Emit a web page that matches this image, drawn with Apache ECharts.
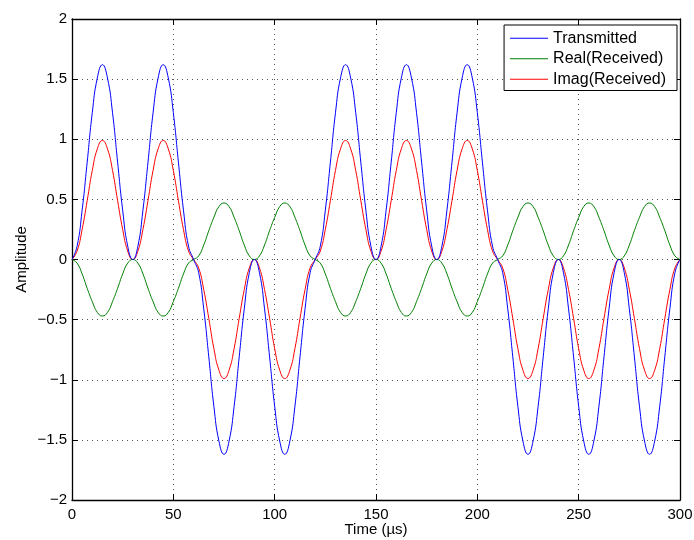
<!DOCTYPE html>
<html>
<head>
<meta charset="utf-8">
<script src="https://cdn.jsdelivr.net/npm/echarts@6/dist/echarts.min.js"></script>
<style>html,body{margin:0;padding:0;background:#fff;}#c{width:694px;height:540px;}</style>
</head>
<body>
<div id="c"></div>
<script>
var time = [0,2.5,5,7.5,10,12.5,15,17.5,20,22.5,25,27.5,
30,32.5,35,37.5,40,42.5,45,47.5,50,52.5,55,57.5,
60,62.5,65,67.5,70,72.5,75,77.5,80,82.5,85,87.5,
90,92.5,95,97.5,100,102.5,105,107.5,110,112.5,115,117.5,
120,122.5,125,127.5,130,132.5,135,137.5,140,142.5,145,147.5,
150,152.5,155,157.5,160,162.5,165,167.5,170,172.5,175,177.5,
180,182.5,185,187.5,190,192.5,195,197.5,200,202.5,205,207.5,
210,212.5,215,217.5,220,222.5,225,227.5,230,232.5,235,237.5,
240,242.5,245,247.5,250,252.5,255,257.5,260,262.5,265,267.5,
270,272.5,275,277.5,280,282.5,285,287.5,290,292.5,295,297.5,300];

var transmitted = [
0,0.11,0.41,0.81,1.22,1.51,1.62,1.51,1.22,0.81,0.41,0.11,
0,0.11,0.41,0.81,1.22,1.51,1.62,1.51,1.22,0.81,0.41,0.11,
0,-0.11,-0.41,-0.81,-1.22,-1.51,-1.62,-1.51,-1.22,-0.81,-0.41,-0.11,
0,-0.11,-0.41,-0.81,-1.22,-1.51,-1.62,-1.51,-1.22,-0.81,-0.41,-0.11,
0,0.11,0.41,0.81,1.22,1.51,1.62,1.51,1.22,0.81,0.41,0.11,
0,0.11,0.41,0.81,1.22,1.51,1.62,1.51,1.22,0.81,0.41,0.11,
0,0.11,0.41,0.81,1.22,1.51,1.62,1.51,1.22,0.81,0.41,0.11,
0,-0.11,-0.41,-0.81,-1.22,-1.51,-1.62,-1.51,-1.22,-0.81,-0.41,-0.11,
0,-0.11,-0.41,-0.81,-1.22,-1.51,-1.62,-1.51,-1.22,-0.81,-0.41,-0.11,
0,-0.11,-0.41,-0.81,-1.22,-1.51,-1.62,-1.51,-1.22,-0.81,-0.41,-0.11,
0];

var realReceived = [
0,-0.03,-0.12,-0.24,-0.35,-0.44,-0.47,-0.44,-0.35,-0.24,-0.12,-0.03,
0,-0.03,-0.12,-0.24,-0.35,-0.44,-0.47,-0.44,-0.35,-0.24,-0.12,-0.03,
0,0.03,0.12,0.24,0.35,0.44,0.47,0.44,0.35,0.24,0.12,0.03,
0,0.03,0.12,0.24,0.35,0.44,0.47,0.44,0.35,0.24,0.12,0.03,
0,-0.03,-0.12,-0.24,-0.35,-0.44,-0.47,-0.44,-0.35,-0.24,-0.12,-0.03,
0,-0.03,-0.12,-0.24,-0.35,-0.44,-0.47,-0.44,-0.35,-0.24,-0.12,-0.03,
0,-0.03,-0.12,-0.24,-0.35,-0.44,-0.47,-0.44,-0.35,-0.24,-0.12,-0.03,
0,0.03,0.12,0.24,0.35,0.44,0.47,0.44,0.35,0.24,0.12,0.03,
0,0.03,0.12,0.24,0.35,0.44,0.47,0.44,0.35,0.24,0.12,0.03,
0,0.03,0.12,0.24,0.35,0.44,0.47,0.44,0.35,0.24,0.12,0.03,
0];

var imagReceived = [
0,0.07,0.25,0.49,0.74,0.92,0.99,0.92,0.74,0.49,0.25,0.07,
0,0.07,0.25,0.49,0.74,0.92,0.99,0.92,0.74,0.49,0.25,0.07,
0,-0.07,-0.25,-0.49,-0.74,-0.92,-0.99,-0.92,-0.74,-0.49,-0.25,-0.07,
0,-0.07,-0.25,-0.49,-0.74,-0.92,-0.99,-0.92,-0.74,-0.49,-0.25,-0.07,
0,0.07,0.25,0.49,0.74,0.92,0.99,0.92,0.74,0.49,0.25,0.07,
0,0.07,0.25,0.49,0.74,0.92,0.99,0.92,0.74,0.49,0.25,0.07,
0,0.07,0.25,0.49,0.74,0.92,0.99,0.92,0.74,0.49,0.25,0.07,
0,-0.07,-0.25,-0.49,-0.74,-0.92,-0.99,-0.92,-0.74,-0.49,-0.25,-0.07,
0,-0.07,-0.25,-0.49,-0.74,-0.92,-0.99,-0.92,-0.74,-0.49,-0.25,-0.07,
0,-0.07,-0.25,-0.49,-0.74,-0.92,-0.99,-0.92,-0.74,-0.49,-0.25,-0.07,
0];

var seriesNames = ['Transmitted', 'Real(Received)', 'Imag(Received)'];
var seriesColors = ['#0000ff', '#008000', '#ff0000'];

function pairs(vals) { return time.map(function (t, i) { return [t, vals[i]]; }); }
function fmt(v) { return String(v).replace('-', '\u2212'); }

var FONT = 'Liberation Sans';
var dotted = { show: true, lineStyle: { color: '#555', type: [1, 4], width: 1 } };
var axisLineStyle = { color: '#000', width: 1.3 };

var chart = echarts.init(document.getElementById('c'), null, { renderer: 'canvas' });
chart.setOption({
  animation: false,
  backgroundColor: '#fff',
  textStyle: { fontFamily: FONT },
  grid: { left: 72, right: 14, top: 19, bottom: 40, outerBoundsMode: 'none', containLabel: false },
  legend: {
    show: true,
    orient: 'vertical', right: 17, top: 25,
    backgroundColor: '#fff', borderColor: '#000', borderWidth: 1,
    padding: [3, 11, 1, 6], itemGap: 0, itemWidth: 38, itemHeight: 1.2,
    icon: 'rect',
    textStyle: { fontFamily: FONT, fontSize: 16, color: '#000', lineHeight: 20.5 },
    data: seriesNames
  },
  xAxis: [{
    type: 'value', min: 0, max: 300, interval: 50, position: 'bottom',
    name: 'Time (\u00b5s)', nameLocation: 'middle', nameGap: 22, nameMoveOverlap: false,
    nameTextStyle: { fontFamily: FONT, fontSize: 15, color: '#000' },
    axisLine: { show: true, onZero: false, lineStyle: axisLineStyle },
    axisTick: { show: true, inside: true, length: 6, lineStyle: { color: '#000' } },
    axisLabel: { fontFamily: FONT, fontSize: 15, color: '#000', margin: 7, formatter: fmt },
    splitLine: dotted
  }, {
    type: 'value', min: 0, max: 300, interval: 50, position: 'top',
    axisLine: { show: true, onZero: false, lineStyle: axisLineStyle },
    axisTick: { show: true, inside: true, length: 6, lineStyle: { color: '#000' } },
    axisLabel: { show: false }, splitLine: { show: false }
  }],
  yAxis: [{
    type: 'value', min: -2, max: 2, interval: 0.5, position: 'left',
    name: 'Amplitude', nameLocation: 'middle', nameGap: 43, nameRotate: 90, nameMoveOverlap: false,
    nameTextStyle: { fontFamily: FONT, fontSize: 15, color: '#000' },
    axisLine: { show: true, onZero: false, lineStyle: axisLineStyle },
    axisTick: { show: true, inside: true, length: 6, lineStyle: { color: '#000' } },
    axisLabel: { fontFamily: FONT, fontSize: 15, color: '#000', margin: 5, formatter: fmt },
    splitLine: dotted
  }, {
    type: 'value', min: -2, max: 2, interval: 0.5, position: 'right',
    axisLine: { show: true, onZero: false, lineStyle: axisLineStyle },
    axisTick: { show: true, inside: true, length: 6, lineStyle: { color: '#000' } },
    axisLabel: { show: false }, splitLine: { show: false }
  }],
  series: [transmitted, realReceived, imagReceived].map(function (vals, i) {
    return {
      name: seriesNames[i], type: 'line', xAxisIndex: 0, yAxisIndex: 0,
      data: pairs(vals), smooth: 0.5, symbol: 'none', showSymbol: false,
      lineStyle: { color: seriesColors[i], width: 1 }, itemStyle: { color: seriesColors[i] },
      z: 3 - i
    };
  })
});
</script>
</body>
</html>
